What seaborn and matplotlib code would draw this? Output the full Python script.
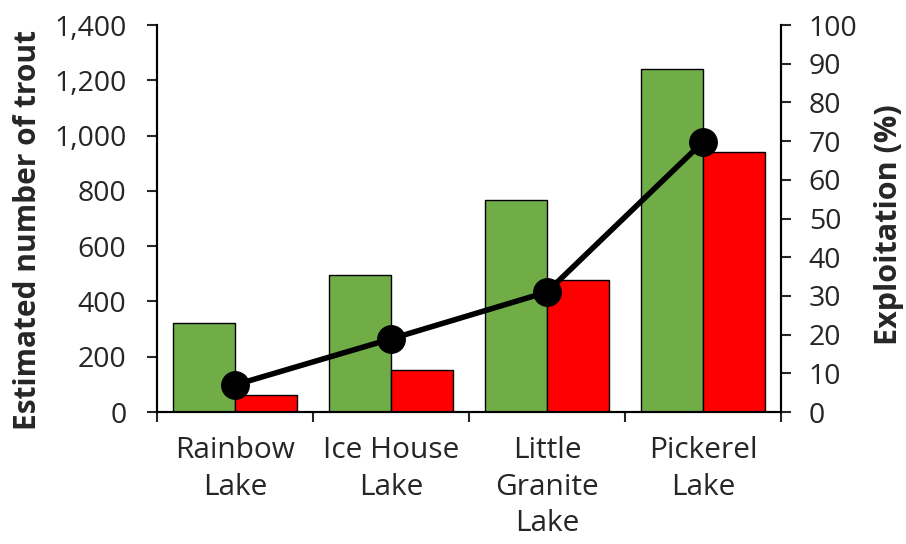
import pandas as pd
import seaborn as sns
import matplotlib.pyplot as plt
from matplotlib.ticker import FixedLocator, FuncFormatter

# values
lakes = ["Rainbow\nLake", "Ice House\nLake", "Little\nGranite\nLake", "Pickerel\nLake"]
green_counts = [322, 496, 767, 1241]
red_counts = [61, 152, 478, 941]
exploitation = [7.0, 18.9, 31.0, 69.8]

df = pd.DataFrame({
    "lake": lakes * 2,
    "count": green_counts + red_counts,
    "group": ["a"] * len(lakes) + ["b"] * len(lakes),
})

sns.set_style("white")
plt.rcParams["font.family"] = ["Open Sans", "DejaVu Sans"]

fig = plt.figure(figsize=(9.06, 5.44), dpi=100)
ax = fig.add_axes([0.1733, 0.2426, 0.6887, 0.7114])

sns.barplot(data=df, x="lake", y="count", hue="group", palette=["#70AD47", "#FF0000"],
            saturation=1, width=0.8, edgecolor="black", linewidth=1, legend=False, ax=ax)
ax.set_xlim(-0.5, 3.5)
ax.set_ylim(0, 1400)
ax.set_yticks(range(0, 1401, 200))
ax.yaxis.set_major_formatter(FuncFormatter(lambda v, p: f"{int(v):,}"))
ax.set_xlabel("")
ax.set_ylabel("Estimated number of trout", fontsize=21.5, fontweight="bold", labelpad=8, y=0.47)

# labels at centers, tick marks at category boundaries
ax.tick_params(axis="x", which="major", length=0, labelsize=21.5, pad=17)
for lbl in ax.get_xticklabels():
    lbl.set_linespacing(1.36)
ax.xaxis.set_minor_locator(FixedLocator([-0.5, 0.5, 1.5, 2.5, 3.5]))
ax.tick_params(axis="x", which="minor", length=7, width=1.5, direction="out", bottom=True)
ax.tick_params(axis="y", length=7, width=1.5, direction="out", left=True, labelsize=20.5, pad=15)

ax2 = ax.twinx()
sns.lineplot(x=range(len(lakes)), y=exploitation, color="black", linewidth=4,
             marker="o", markersize=20, markeredgecolor="black", ax=ax2)
ax2.set_ylim(0, 100)
ax2.set_yticks(range(0, 101, 10))
ax2.set_ylabel("Exploitation (%)", fontsize=22, fontweight="bold", labelpad=12, y=0.485)
ax2.tick_params(axis="y", length=7, width=1.5, direction="out", right=True, labelsize=20.5, pad=13)
ax2.set_xlim(-0.5, 3.5)

for a in (ax, ax2):
    a.spines["top"].set_visible(False)
    for s in ("left", "right", "bottom"):
        a.spines[s].set_color("black")
        a.spines[s].set_linewidth(1.5)

fig.savefig("out.png", dpi=100)
